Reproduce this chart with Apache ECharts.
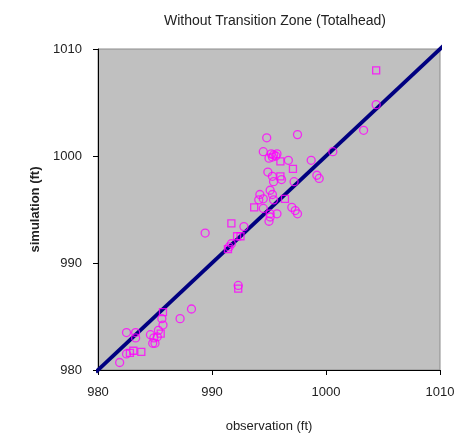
<!DOCTYPE html>
<html>
<head>
<meta charset="utf-8">
<script src="https://cdn.jsdelivr.net/npm/echarts@6/dist/echarts.min.js"></script>
<style>
  html, body { margin: 0; padding: 0; background: #fff; }
  #chart { width: 471px; height: 438px; }
</style>
</head>
<body>
<div id="chart"></div>
<script>
// axis ticks
var axisMin = 980
var axisMax = 1010
var tickStep = 10

// observed vs simulated heads, circles
var circlePoints = [
  [1004.4, 1004.8], [1003.3, 1002.4], [1000.6, 1000.4], [998.7, 999.6],
  [997.5, 1002.0], [994.8, 1001.7], [994.5, 1000.4], [995.2, 1000.2],
  [995.4, 1000.1], [995.6, 1000.0], [995.3, 999.9], [995.7, 1000.2],
  [995.0, 999.8], [996.7, 999.6], [999.4, 997.9], [999.2, 998.2],
  [994.9, 998.5], [995.3, 998.1], [995.4, 997.6], [996.1, 997.8],
  [997.2, 997.6], [995.1, 996.8], [994.2, 996.4], [994.5, 996.0],
  [994.1, 995.9], [995.3, 996.4], [995.4, 995.9], [994.5, 995.1],
  [995.1, 994.6], [995.7, 994.6], [997.0, 995.2], [997.3, 994.9],
  [997.5, 994.6], [995.1, 994.3], [995.0, 993.9], [992.8, 993.4],
  [989.4, 992.8], [991.5, 991.5], [991.7, 991.8], [992.3, 987.9],
  [985.6, 984.8], [985.7, 984.2], [988.2, 985.7], [987.2, 984.8],
  [985.3, 983.7], [985.2, 983.1], [984.9, 983.0], [984.6, 983.3],
  [985.0, 982.5], [984.8, 982.5], [982.5, 983.5], [983.3, 983.5],
  [983.3, 983.0], [982.5, 981.5], [981.9, 980.7]
]

// squares
var squarePoints = [
  [1004.4, 1008.0], [997.1, 998.8], [996.0, 999.5], [996.0, 998.1],
  [996.4, 996.0], [993.7, 995.2], [991.7, 993.7], [992.2, 992.5],
  [992.5, 992.5], [991.4, 991.3], [992.3, 987.6], [985.7, 985.4],
  [985.5, 983.4], [983.8, 981.7], [983.1, 981.8], [982.8, 981.6]
]

// 1:1 line
var lineStart = 979.8
var lineEnd = 1010.3

var myChart = echarts.init(document.getElementById('chart'))

var markerStyle = {
  color: 'rgba(0,0,0,0)',
  borderColor: '#ff00ff',
  borderWidth: 1.3
}

var plainLabel = function (v) { return String(v) }

myChart.setOption({
  animation: false,
  textStyle: { fontFamily: 'Liberation Sans, Arial, sans-serif' },
  title: {
    text: 'Without Transition Zone (Totalhead)',
    left: 270,
    top: 9,
    textAlign: 'center',
    textStyle: { fontSize: 14, fontWeight: 'normal', color: '#222' }
  },
  grid: {
    left: 98,
    right: 31,
    top: 49,
    bottom: 68,
    show: true,
    backgroundColor: '#c0c0c0',
    borderColor: '#8c8c8c',
    borderWidth: 1
  },
  xAxis: {
    type: 'value',
    min: axisMin,
    max: axisMax,
    interval: tickStep,
    name: 'observation (ft)',
    nameLocation: 'middle',
    nameGap: 50,
    nameTextStyle: { fontSize: 13, color: '#222' },
    axisLine: { show: true, lineStyle: { color: '#000', width: 1 } },
    axisTick: { show: true, length: 5, lineStyle: { color: '#000' } },
    axisLabel: { fontSize: 13, color: '#222', margin: 16, formatter: plainLabel },
    splitLine: { show: false }
  },
  yAxis: {
    type: 'value',
    min: axisMin,
    max: axisMax,
    interval: tickStep,
    name: 'simulation (ft)',
    nameLocation: 'middle',
    nameGap: 55,
    nameTextStyle: { fontSize: 13, color: '#222', fontWeight: 'bold' },
    axisLine: { show: true, lineStyle: { color: '#000', width: 1 } },
    axisTick: { show: true, length: 5, lineStyle: { color: '#000' } },
    axisLabel: { fontSize: 13, color: '#222', margin: 16, formatter: plainLabel },
    splitLine: { show: false }
  },
  series: [
    {
      type: 'line',
      data: [[lineStart, lineStart], [lineEnd, lineEnd]],
      symbol: 'none',
      clip: false,
      lineStyle: { color: '#000080', width: 4 },
      z: 2
    },
    {
      type: 'scatter',
      data: circlePoints,
      symbol: 'circle',
      symbolSize: 8,
      itemStyle: markerStyle,
      z: 3
    },
    {
      type: 'scatter',
      data: squarePoints,
      symbol: 'rect',
      symbolSize: 7,
      itemStyle: markerStyle,
      z: 3
    }
  ]
})
</script>
</body>
</html>
